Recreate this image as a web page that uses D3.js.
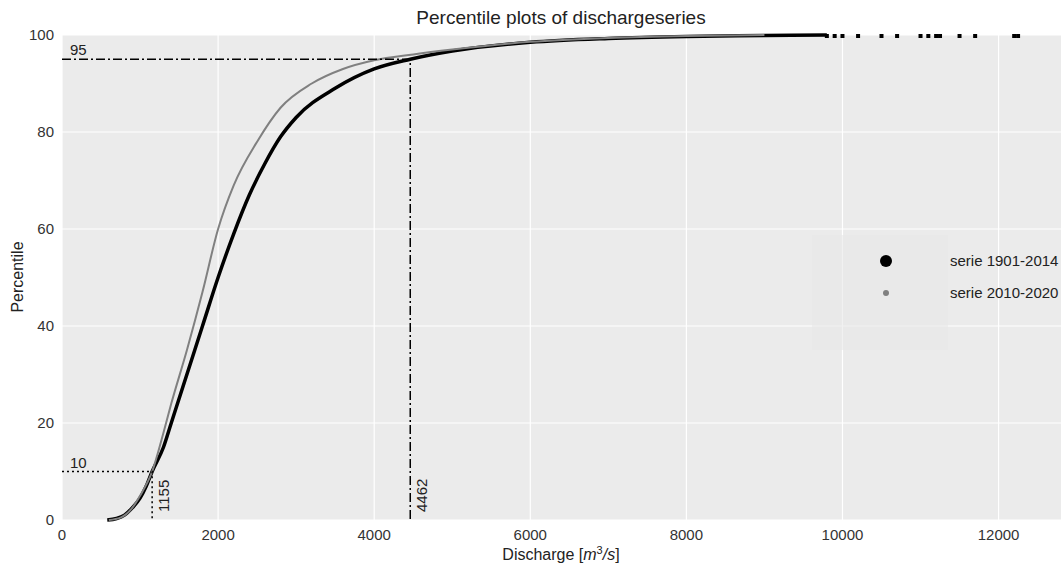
<!DOCTYPE html><html><head><meta charset="utf-8">
<script src="https://cdn.jsdelivr.net/npm/d3@7"></script>
<style>body{margin:0;background:#fff;font-family:"Liberation Sans",Arial,sans-serif}</style></head><body>
<svg id="c" width="1061" height="563"></svg>
<script>
const xTicks=[0,2000,4000,6000,8000,10000,12000];
const yTicks=[0,20,40,60,80,100];
const blackQ=[580,700,800,900,1000,1080,1155,1300,1400,1600,1800,2000,2200,2400,2600,2800,3000,3500,4000,4462,5000,6000,7000,8000,9000,9800];
const blackP=[0,0.3,1,2.5,4.5,7,10,15,20,30,40,50,59,67,73.5,79,83,89,93,95,96.7,98.5,99.3,99.7,99.88,100];
const greyQ=[600,750,900,1000,1155,1300,1400,1600,1800,2000,2200,2500,2800,3200,3600,4000,4500,5000,6000,7000,8000,9000];
const greyP=[0,0.5,2.5,5,10,18,24,35,47,60,69,78,85,90,93,94.8,96,97,98.6,99.4,99.8,100];
const topDots=[9800,9900,10000,10200,10500,10700,11000,11100,11200,11250,11500,11700,12200,12250];
const svg=d3.select("#c");
const x=d3.scaleLinear().domain([0,12800]).range([62,1061]);
const y=d3.scaleLinear().domain([0,100]).range([520,35]);
svg.append("rect").attr("x",62).attr("y",35).attr("width",999).attr("height",485).attr("fill","#ebebeb");
xTicks.forEach(t=>svg.append("line").attr("x1",x(t)).attr("x2",x(t)).attr("y1",35).attr("y2",520).attr("stroke","#fff").attr("stroke-width",1.2));
yTicks.forEach(t=>svg.append("line").attr("x1",62).attr("x2",1061).attr("y1",y(t)).attr("y2",y(t)).attr("stroke","#fff").attr("stroke-width",1.2));
svg.append("rect").attr("x",812).attr("y",235).attr("width",136).attr("height",115).attr("fill","#e8e8e8").attr("opacity",0.6);
xTicks.forEach(t=>svg.append("text").attr("x",x(t)).attr("y",540).attr("text-anchor","middle").attr("font-size",15).attr("fill","#333").text(t));
yTicks.forEach(t=>svg.append("text").attr("x",54).attr("y",y(t)+5).attr("text-anchor","end").attr("font-size",15).attr("fill","#333").text(t));
svg.append("text").attr("x",561).attr("y",24).attr("text-anchor","middle").attr("font-size",19).attr("fill","#222").text("Percentile plots of dischargeseries");
const xl=svg.append("text").attr("x",561).attr("y",560).attr("text-anchor","middle").attr("font-size",16).attr("fill","#222");
xl.append("tspan").text("Discharge [");xl.append("tspan").attr("font-style","italic").text("m");
xl.append("tspan").attr("font-size",11).attr("dy",-6).text("3");xl.append("tspan").attr("dy",6).attr("font-style","italic").text("/s");xl.append("tspan").text("]");
svg.append("text").attr("transform","translate(23,277) rotate(-90)").attr("text-anchor","middle").attr("font-size",16).attr("fill","#222").text("Percentile");
const line=d3.line().x(d=>x(d[0])).y(d=>y(d[1])).curve(d3.curveMonotoneX);
svg.append("path").attr("d",line(d3.zip(blackQ,blackP))).attr("fill","none").attr("stroke","#000").attr("stroke-width",3.5);
svg.append("path").attr("d",line(d3.zip(greyQ,greyP))).attr("fill","none").attr("stroke","#808080").attr("stroke-width",2);
topDots.forEach(v=>svg.append("rect").attr("x",x(v)-2).attr("y",y(100)-1).attr("width",4).attr("height",4).attr("fill","#000"));
svg.append("path").attr("d",`M${x(0)},${y(95)}H${x(4462)}V${y(0)}`).attr("fill","none").attr("stroke","#000").attr("stroke-width",1.5).attr("stroke-dasharray","9,3,2,3");
svg.append("path").attr("d",`M${x(0)},${y(10)}H${x(1155)}V${y(0)}`).attr("fill","none").attr("stroke","#000").attr("stroke-width",1.5).attr("stroke-dasharray","2,3");
svg.append("text").attr("x",70).attr("y",y(95)-4).attr("font-size",15).attr("fill","#222").text("95");
svg.append("text").attr("x",70).attr("y",y(10)-4).attr("font-size",15).attr("fill","#222").text("10");
svg.append("text").attr("transform",`translate(${x(4462)+17},${y(0)-8}) rotate(-90)`).attr("font-size",15).attr("fill","#222").text("4462");
svg.append("text").attr("transform",`translate(${x(1155)+17},${y(0)-8}) rotate(-90)`).attr("font-size",15).attr("fill","#222").text("1155");
svg.append("circle").attr("cx",886).attr("cy",261).attr("r",6).attr("fill","#000");
svg.append("circle").attr("cx",886).attr("cy",293).attr("r",3).attr("fill","#808080");
svg.append("text").attr("x",950).attr("y",266).attr("font-size",15).attr("fill","#222").text("serie 1901-2014");
svg.append("text").attr("x",950).attr("y",298).attr("font-size",15).attr("fill","#222").text("serie 2010-2020");
</script></body></html>
